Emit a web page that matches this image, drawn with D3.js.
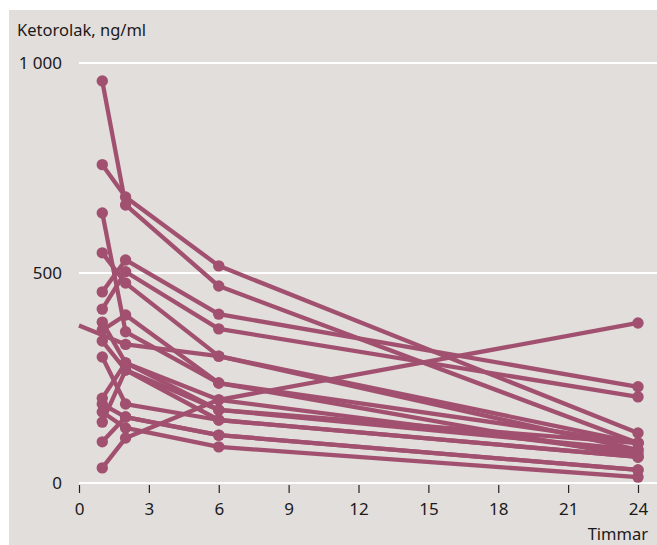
<!DOCTYPE html>
<html><head><meta charset="utf-8">
<script src="https://cdn.jsdelivr.net/npm/d3@7"></script>
<style>html,body{margin:0;padding:0;background:#fff;}svg{display:block;}</style>
</head><body>
<svg id="chart" width="657" height="545"></svg>
<script>
// Data
const times = [0, 1, 2, 6, 24];
const s01 = [null, 957, 662, 469, 95];
const s02 = [null, 758, 681, 517, 119];
const s03 = [null, 643, 360, 238, 62];
const s04 = [null, 548, 476, 302, 79];
const s05 = [null, 455, 531, 402, 229];
const s06 = [null, 414, 503, 367, 205];
const s07 = [null, 383, 286, 198, 70];
const s08 = [null, 364, 400, 238, 95];
const s09 = [null, 338, 269, 174, 79];
const s10 = [null, 300, 188, 150, 62];
const s11 = [null, 202, 286, 174, 95];
const s12 = [null, 188, 157, 114, 31];
const s13 = [null, 169, 131, 86, 14];
const s14 = [null, 145, 269, 150, 62];
const s15 = [null, 98, 157, 114, 31];
const s16 = [null, 36, 107, 198, 381];
const s17 = [375, null, 330, 302, 95];
const subjects = [s01,s02,s03,s04,s05,s06,s07,s08,s09,s10,s11,s12,s13,s14,s15,s16,s17];
const xTicks = [0, 3, 6, 9, 12, 15, 18, 21, 24];
const yTicks = [0, 500, 1000];
const yTickLabels = ["0", "500", "1 000"];
const yTitle = "Ketorolak, ng/ml";
const xTitle = "Timmar";

const svg = d3.select("#chart");
const W = 657, H = 545;
const col = "#a1516f";
const font = "'Noto Sans', sans-serif";

svg.append("rect").attr("x", 9).attr("y", 10).attr("width", W - 9).attr("height", H - 10).attr("fill", "#e2dedb");

const x = d3.scaleLinear().domain([0, 24]).range([79, 638]);
const y = d3.scaleLinear().domain([0, 1000]).range([483, 63]);

// gridlines
svg.append("g").selectAll("line").data(yTicks).join("line")
  .attr("x1", x(0)).attr("x2", W).attr("y1", d => y(d)).attr("y2", d => y(d))
  .attr("stroke", "#fff").attr("stroke-width", 2);

// y labels
svg.append("g").selectAll("text").data(yTicks).join("text")
  .attr("x", 62).attr("y", d => y(d)).attr("dy", "0.35em")
  .attr("text-anchor", "end").attr("font-family", font).attr("font-size", 17).attr("fill", "#1a1a1a")
  .text((d, i) => yTickLabels[i]);

// x axis ticks
const xAxis = d3.axisBottom(x).tickValues(xTicks).tickSize(8).tickPadding(10).tickSizeOuter(0);
const gx = svg.append("g").attr("transform", `translate(0,${y(0) + 2})`).call(xAxis);
gx.select(".domain").remove();
gx.selectAll(".tick line").attr("stroke", "#222").attr("stroke-width", 1.2);
gx.selectAll(".tick text").attr("font-family", font).attr("font-size", 17).attr("fill", "#1a1a1a");

svg.append("text").attr("x", 17).attr("y", 36).attr("font-family", font).attr("font-size", 16.5).attr("fill", "#1a1a1a").text(yTitle);
svg.append("text").attr("x", 648).attr("y", 540).attr("text-anchor", "end").attr("font-family", font).attr("font-size", 16.5).attr("fill", "#1a1a1a").text(xTitle);

const line = d3.line().defined(d => d.v != null).x(d => x(d.t)).y(d => y(d.v));
const series = subjects.map(s => s.map((v, i) => ({ t: times[i], v })));
const g = svg.append("g");
g.selectAll("path").data(series).join("path")
  .attr("d", d => line(d.filter(p => p.v != null)))
  .attr("fill", "none").attr("stroke", col).attr("stroke-width", 4.3).attr("stroke-linejoin", "round");
g.selectAll("circle").data(series.flatMap(s => s.filter(p => p.v != null && p.t > 0))).join("circle")
  .attr("cx", d => x(d.t)).attr("cy", d => y(d.v)).attr("r", 5.7).attr("fill", col);
</script>
</body></html>
